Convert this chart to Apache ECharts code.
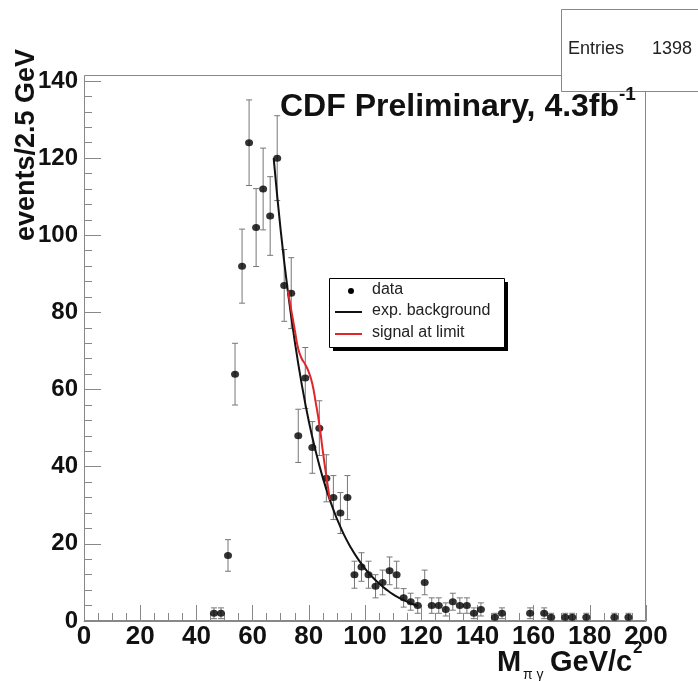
<!DOCTYPE html>
<html>
<head>
<meta charset="utf-8">
<title>CDF Preliminary, M(pi gamma)</title>
<script src="https://cdn.jsdelivr.net/npm/echarts@6/dist/echarts.min.js"></script>
<style>
  html, body { margin: 0; padding: 0; background: #fff; }
  #chart { width: 698px; height: 681px; }
</style>
</head>
<body>
<div id="chart"></div>
<script>
var FONT = '"Liberation Sans", Arial, Helvetica, sans-serif';

// bin centres (2.5 GeV bins) and counts
var massBins = [46.25, 48.75, 51.25, 53.75, 56.25, 58.75, 61.25, 63.75, 66.25, 68.75,
                71.25, 73.75, 76.25, 78.75, 81.25, 83.75, 86.25, 88.75, 91.25, 93.75,
                96.25, 98.75, 101.25, 103.75, 106.25, 108.75, 111.25, 113.75, 116.25, 118.75,
                121.25, 123.75, 126.25, 128.75, 131.25, 133.75, 136.25, 138.75, 141.25,
                146.25, 148.75, 158.75, 163.75, 166.25, 171.25, 173.75, 178.75, 188.75, 193.75];
var counts = [2, 2, 17, 64, 92, 124, 102, 112, 105, 120,
              87, 85, 48, 63, 45, 50, 37, 32, 28, 32,
              12, 14, 12, 9, 10, 13, 12, 6, 5, 4,
              10, 4, 4, 3, 5, 4, 4, 2, 3,
              1, 2, 2, 2, 1, 1, 1, 1, 1, 1];
var countErrors = [1.4, 1.4, 4.1, 8, 9.6, 11.1, 10.1, 10.6, 10.2, 11,
                   9.3, 9.2, 6.9, 7.9, 6.7, 7.1, 6.1, 5.7, 5.3, 5.7,
                   3.5, 3.7, 3.5, 3, 3.2, 3.6, 3.5, 2.4, 2.2, 2,
                   3.2, 2, 2, 1.7, 2.2, 2, 2, 1.4, 1.7,
                   1, 1.4, 1.4, 1.4, 1, 1, 1, 1, 1, 1];

// exponential background curve
var bgMass = [67.5, 70, 72.5, 75, 77.5, 80, 82.5, 85, 87.5, 90, 92.5, 95, 97.5,
              100, 102.5, 105, 107.5, 110, 112.5, 115, 117.5, 118.75];
var bgFit = [120, 101.3, 85.7, 72.5, 61.3, 51.8, 43.9, 37.1, 31.4, 26.5, 22.4, 19, 16.1,
             13.6, 11.5, 9.7, 8.2, 6.9, 5.9, 5, 4.2, 3.9];

// background + signal at limit
var sigMass = [72.5, 75, 76.25, 77.5, 78.75, 80, 81.25, 82.5, 83.75, 85, 86.25, 87.5];
var sigFit = [85.7, 75.5, 70.5, 68, 66.5, 64.5, 61.5, 56.5, 51, 44, 37.5, 31.4];

var chart = echarts.init(document.getElementById('chart'));

var axisGray = '#888';

var option = {
  animation: false,
  backgroundColor: '#fff',
  grid: { left: 84, right: 52, top: 81, bottom: 60, show: false, outerBoundsMode: 'none' },
  xAxis: {
    type: 'value', min: 0, max: 200, interval: 20,
    axisLine: { show: true, lineStyle: { color: axisGray, width: 1 } },
    axisTick: { show: true, inside: true, length: 16, lineStyle: { color: axisGray } },
    minorTick: { show: true, splitNumber: 4, length: 8, lineStyle: { color: axisGray } },
    splitLine: { show: false },
    axisLabel: { margin: 3, color: '#111', fontSize: 26, fontWeight: 'bold', fontFamily: FONT }
  },
  yAxis: {
    type: 'value', min: 0, max: 140, interval: 20,
    axisLine: { show: true, lineStyle: { color: axisGray, width: 1 } },
    axisTick: { show: true, inside: true, length: 17, lineStyle: { color: axisGray } },
    minorTick: { show: true, splitNumber: 5, length: 8, lineStyle: { color: axisGray } },
    splitLine: { show: false },
    axisLabel: { margin: 6, color: '#111', fontSize: 24, fontWeight: 'bold', fontFamily: FONT }
  },
  series: [
    {
      // error bars
      type: 'custom',
      z: 2,
      encode: { x: 0, y: 1 },
      data: massBins.map(function (m, i) { return [m, counts[i], countErrors[i]]; }),
      renderItem: function (params, api) {
        var x = api.value(0), y = api.value(1), e = api.value(2);
        var lo = api.coord([x, Math.max(0, y - e)]);
        var hi = api.coord([x, y + e]);
        var st = { stroke: '#777', lineWidth: 1 };
        return {
          type: 'group',
          children: [
            { type: 'line', shape: { x1: lo[0], y1: lo[1], x2: hi[0], y2: hi[1] }, style: st },
            { type: 'line', shape: { x1: lo[0] - 3, y1: lo[1], x2: lo[0] + 3, y2: lo[1] }, style: st },
            { type: 'line', shape: { x1: hi[0] - 3, y1: hi[1], x2: hi[0] + 3, y2: hi[1] }, style: st }
          ]
        };
      }
    },
    {
      name: 'data',
      type: 'scatter',
      z: 3,
      symbol: 'circle',
      symbolSize: [8, 7],
      itemStyle: { color: '#000' },
      data: massBins.map(function (m, i) { return [m, counts[i]]; })
    },
    {
      name: 'exp. background',
      type: 'line',
      z: 4,
      smooth: true,
      showSymbol: false,
      lineStyle: { color: '#111', width: 2 },
      data: bgMass.map(function (m, i) { return [m, bgFit[i]]; })
    },
    {
      name: 'signal at limit',
      type: 'line',
      z: 5,
      smooth: true,
      showSymbol: false,
      lineStyle: { color: '#e0262b', width: 2 },
      data: sigMass.map(function (m, i) { return [m, sigFit[i]]; })
    }
  ],
  graphic: [
    // frame
    { type: 'rect', z: 1, shape: { x: 84.5, y: 75.5, width: 561, height: 545 },
      style: { fill: 'none', stroke: axisGray, lineWidth: 1 } },
    // stats box
    { type: 'rect', z: 10, shape: { x: 561.5, y: 9.5, width: 150, height: 82 },
      style: { fill: '#fff', stroke: axisGray, lineWidth: 1 } },
    { type: 'text', z: 11, x: 568, y: 49,
      style: { text: 'Entries', font: '18px ' + FONT, fill: '#222', verticalAlign: 'middle' } },
    { type: 'text', z: 11, x: 652, y: 49,
      style: { text: '1398', font: '18px ' + FONT, fill: '#222', verticalAlign: 'middle' } },
    // title
    { type: 'text', z: 12, x: 280, y: 107,
      style: { text: 'CDF Preliminary, 4.3fb', font: 'bold 32px ' + FONT, fill: '#111', verticalAlign: 'middle' } },
    { type: 'text', z: 12, x: 619, y: 95,
      style: { text: '-1', font: 'bold 19px ' + FONT, fill: '#111', verticalAlign: 'middle' } },
    // y axis title
    { type: 'text', z: 12, x: 27, y: 145, rotation: Math.PI / 2,
      style: { text: 'events/2.5 GeV', font: 'bold 27px ' + FONT, fill: '#111', align: 'center', verticalAlign: 'middle' } },
    // x axis title
    { type: 'text', z: 12, x: 497, y: 663,
      style: { text: 'M', font: 'bold 29px ' + FONT, fill: '#111', verticalAlign: 'middle' } },
    { type: 'text', z: 12, x: 523, y: 675,
      style: { text: 'π γ', font: '14px ' + FONT, fill: '#111', verticalAlign: 'middle' } },
    { type: 'text', z: 12, x: 550, y: 663,
      style: { text: 'GeV/c', font: 'bold 29px ' + FONT, fill: '#111', verticalAlign: 'middle' } },
    { type: 'text', z: 12, x: 633, y: 648,
      style: { text: '2', font: 'bold 17px ' + FONT, fill: '#111', verticalAlign: 'middle' } },
    // legend
    { type: 'rect', z: 12, shape: { x: 333, y: 282, width: 175, height: 69 }, style: { fill: '#000' } },
    { type: 'rect', z: 13, shape: { x: 329.5, y: 278.5, width: 175, height: 69 },
      style: { fill: '#fff', stroke: '#000', lineWidth: 1 } },
    { type: 'circle', z: 14, shape: { cx: 351, cy: 291, r: 3 }, style: { fill: '#000' } },
    { type: 'line', z: 14, shape: { x1: 335, y1: 312, x2: 362, y2: 312 }, style: { stroke: '#111', lineWidth: 2 } },
    { type: 'line', z: 14, shape: { x1: 335, y1: 334, x2: 362, y2: 334 }, style: { stroke: '#e0262b', lineWidth: 2 } },
    { type: 'text', z: 14, x: 372, y: 290,
      style: { text: 'data', font: '16px ' + FONT, fill: '#222', verticalAlign: 'middle' } },
    { type: 'text', z: 14, x: 372, y: 311,
      style: { text: 'exp. background', font: '16px ' + FONT, fill: '#222', verticalAlign: 'middle' } },
    { type: 'text', z: 14, x: 372, y: 333,
      style: { text: 'signal at limit', font: '16px ' + FONT, fill: '#222', verticalAlign: 'middle' } }
  ]
};

chart.setOption(option);
</script>
</body>
</html>
